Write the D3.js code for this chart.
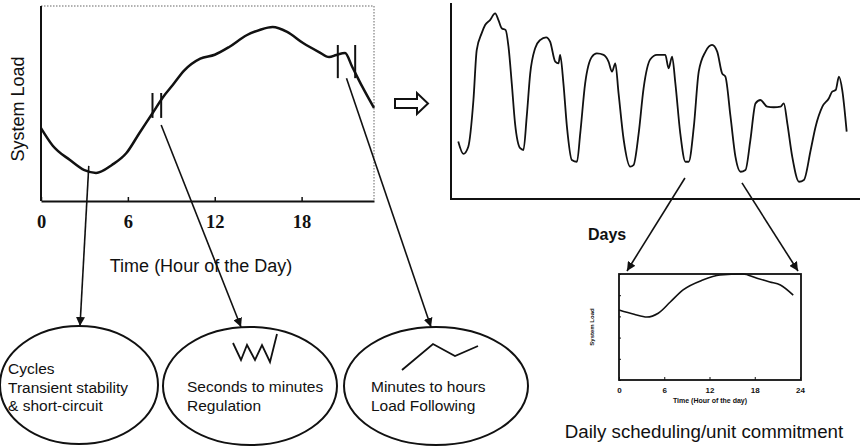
<!DOCTYPE html>
<html>
<head>
<meta charset="utf-8">
<script src="https://cdn.jsdelivr.net/npm/d3@7"></script>
<style>
  body { margin: 0; background: #fff; }
  svg { display: block; }
  text { font-family: "Liberation Sans", Arial, sans-serif; fill: #111; }
</style>
</head>
<body>
<script>
// one day of load (hour, relative load)
var dayHours = [0, 0.8, 2, 3, 3.8, 4.9, 5.9, 6.8, 7.7, 8.4, 9.1, 9.9, 11, 12, 13, 14.2, 15.1, 16, 17, 18.1, 19.2, 19.9, 20.4, 21, 21.5, 22.2, 23];
var dayLoad  = [37.4, 28.5, 21, 15.8, 14.4, 18.5, 24.6, 34.9, 45, 53, 59.5, 67, 73, 75, 79, 85, 87.7, 89.2, 86.7, 81, 76.4, 73.8, 74.9, 75.9, 68.7, 58.5, 47.7];
var dayTicks = [0, 6, 12, 18];

// a week of load (hour of week, relative load)
var weekHours = [3.1, 5.3, 7.4, 9.6, 11, 13.1, 14.6, 16.7, 18.9, 20.3, 21.7, 23.4, 24.6, 26, 27.4, 29.6, 31,
  32.4, 33.9, 36, 38.1, 40.7, 42.4, 44.6, 46, 46.7, 48.1, 49.6, 51.7, 53.9,
  55.3, 57.4, 60.3, 62.4, 65.3, 67.4, 68.9, 70.3, 71.7, 73.9, 76.7, 78.1,
  80.3, 82.4, 85.3, 88.1, 91.7, 93.1, 94.6, 96, 98.1, 100.3, 101.7,
  103.9, 106, 108.9, 111.7, 113.9, 116, 117.4, 119.6, 121.7, 123.9, 126,
  128.1, 130.3, 132.4, 135.3, 138.1, 141, 142.4, 143.9, 146, 148.9, 151,
  153.9, 156, 158.9, 161.7, 163.1, 164.6, 166, 167.4, 169.3];
var weekLoad = [29.3, 23, 26.7, 50.5, 76, 84.5, 88.8, 91.3, 94.7, 91.3, 87.1, 86.2, 77.7, 59, 38.6, 25.9, 25,
  42, 64.1, 76.9, 81.1, 82.5, 80.3, 70.1, 69.2, 73.5, 59, 36.9, 19.9, 19,
  33.5, 59, 72.6, 74.3, 73.5, 70.1, 65, 69.2, 53.9, 30.1, 16.5, 17.3,
  33.5, 56.5, 71.3, 73.5, 73.5, 66.7, 72.6, 59, 33.5, 19, 19,
  36.9, 65, 75.2, 78.6, 75.2, 64.1, 62.4, 42, 21.6, 13.9, 14.8,
  30.1, 48.8, 50.5, 47.1, 46.8, 47.1, 48.8, 38.6, 21.6, 8.8, 9.7,
  25, 36.9, 47.1, 51.4, 54.8, 55.6, 62.4, 55.6, 34.4];

// small daily chart
var smallHours = [0, 2, 3.7, 5.2, 6.8, 8.5, 11.1, 13.4, 16.4, 18.3, 20, 21.4, 23.1];
var smallLoad  = [66, 62, 59.4, 63, 73.6, 85, 94.3, 99, 100, 96, 92.5, 89.6, 80];
var smallTicks = [0, 6, 12, 18, 24];

// time-scale bubbles
var bubbleLines = [
  ["Cycles", "Transient stability", "& short-circuit"],
  ["Seconds to minutes", "Regulation"],
  ["Minutes to hours", "Load Following"]
];
// where each bubble arrow leaves the daily curve (hour, load)
var bubbleFrom = [[3.3, 18], [8.3, 39], [21.1, 63]];
// the "||" marks on the daily curve (hour, low load, high load)
var marks = [[7.7, 42.6, 55.4], [8.3, 42.6, 55.4], [20.5, 63, 80], [21.7, 63, 80]];
// where the two arrows leave the weekly curve (hour, load)
var weekFrom = [[100.1, 10.7], [124.5, 8.2]];

var svg = d3.select("body").append("svg")
    .attr("width", 861)
    .attr("height", 447);

var defs = svg.append("defs");
defs.append("marker")
    .attr("id", "head")
    .attr("viewBox", "0 0 10 10")
    .attr("refX", 10).attr("refY", 5)
    .attr("markerWidth", 9).attr("markerHeight", 9)
    .attr("markerUnits", "userSpaceOnUse")
    .attr("orient", "auto")
  .append("path")
    .attr("d", "M0,0L10,5L0,10z")
    .attr("fill", "#111");

// ---------- daily chart ----------
var x = d3.scaleLinear().domain([0, 23]).range([41, 374]);
var y = d3.scaleLinear().domain([0, 100]).range([201, 6]);

svg.append("path")
    .attr("d", "M41,6H374V201")
    .attr("fill", "none")
    .attr("stroke", "#999")
    .attr("stroke-width", 1.5)
    .attr("stroke-dasharray", "1.5,1.5");

svg.append("g")
    .attr("transform", "translate(0,201)")
    .call(d3.axisBottom(x).tickValues(dayTicks).tickSize(-4).tickPadding(14).tickSizeOuter(0))
    .call(function(g) {
      g.select(".domain").attr("stroke", "#111").attr("stroke-width", 2);
      g.selectAll(".tick line").attr("stroke", "#111").attr("stroke-width", 1.5);
      g.selectAll(".tick text")
        .style("font-family", "'Liberation Serif', 'Times New Roman', serif")
        .style("font-weight", "bold")
        .style("font-size", "18.5px")
        .attr("fill", "#111");
    });

svg.append("line")
    .attr("x1", 41).attr("x2", 41).attr("y1", 6).attr("y2", 201)
    .attr("stroke", "#111").attr("stroke-width", 2);

var line = d3.line()
    .x(function(d, i) { return x(dayHours[i]); })
    .y(function(d) { return y(d); })
    .curve(d3.curveMonotoneX);

svg.append("path")
    .datum(dayLoad)
    .attr("d", line)
    .attr("fill", "none")
    .attr("stroke", "#111")
    .attr("stroke-width", 2.5);

svg.selectAll(".mark")
    .data(marks)
  .enter().append("line")
    .attr("class", "mark")
    .attr("x1", function(d) { return x(d[0]); })
    .attr("x2", function(d) { return x(d[0]); })
    .attr("y1", function(d) { return y(d[1]); })
    .attr("y2", function(d) { return y(d[2]); })
    .attr("stroke", "#111")
    .attr("stroke-width", 2);

svg.append("text")
    .attr("transform", "translate(24,109) rotate(-90)")
    .attr("text-anchor", "middle")
    .style("font-size", "18px")
    .text("System Load");

svg.append("text")
    .attr("x", 201).attr("y", 272)
    .attr("text-anchor", "middle")
    .style("font-size", "18px")
    .text("Time (Hour of the Day)");

// ---------- bubbles ----------
var bubbles = [
  {cx: 79, cy: 385, rx: 79, ry: 59, tx: 8, ty: 374},
  {cx: 250, cy: 386, rx: 87, ry: 59, tx: 187, ty: 392},
  {cx: 436, cy: 386, rx: 92, ry: 59, tx: 371, ty: 392}
];

bubbles.forEach(function(b, i) {
  svg.append("ellipse")
      .attr("cx", b.cx).attr("cy", b.cy)
      .attr("rx", b.rx).attr("ry", b.ry)
      .attr("fill", "none")
      .attr("stroke", "#111")
      .attr("stroke-width", 2);

  svg.append("text")
      .attr("x", b.tx).attr("y", b.ty)
      .style("font-size", "15.5px")
    .selectAll("tspan")
      .data(bubbleLines[i])
    .enter().append("tspan")
      .attr("x", b.tx)
      .attr("dy", function(d, j) { return j ? 18.5 : 0; })
      .text(function(d) { return d; });

  var tipX = [80, 241, 431][i];
  svg.append("line")
      .attr("x1", x(bubbleFrom[i][0])).attr("y1", y(bubbleFrom[i][1]))
      .attr("x2", tipX).attr("y2", b.cy - b.ry)
      .attr("stroke", "#111")
      .attr("stroke-width", 1.6)
      .attr("marker-end", "url(#head)");
});

// little glyphs inside bubbles
svg.append("path")
    .attr("d", "M233,343L241,360L247,345L255,360L262,345L270,362L277,334")
    .attr("fill", "none").attr("stroke", "#111").attr("stroke-width", 1.8);
svg.append("path")
    .attr("d", "M402,370L433,344L455,356L478,346")
    .attr("fill", "none").attr("stroke", "#111").attr("stroke-width", 1.8);

// block arrow
svg.append("path")
    .attr("d", "M395,99H417V93L428,103.5L417,114V108H395Z")
    .attr("fill", "none")
    .attr("stroke", "#111")
    .attr("stroke-width", 2);

// ---------- weekly chart ----------
var wx = d3.scaleLinear().domain([0, 175]).range([451, 860]);
var wy = d3.scaleLinear().domain([0, 100]).range([199, 3]);

svg.append("path")
    .attr("d", "M451,3V199H860")
    .attr("fill", "none")
    .attr("stroke", "#111")
    .attr("stroke-width", 2);

var wline = d3.line()
    .x(function(d, i) { return wx(weekHours[i]); })
    .y(function(d) { return wy(d); })
    .curve(d3.curveMonotoneX);

svg.append("path")
    .datum(weekLoad)
    .attr("d", wline)
    .attr("fill", "none")
    .attr("stroke", "#111")
    .attr("stroke-width", 1.8);

svg.append("text")
    .attr("x", 588).attr("y", 240)
    .style("font-size", "16px")
    .style("font-weight", "bold")
    .text("Days");

// ---------- small daily chart ----------
var sx = d3.scaleLinear().domain([0, 24]).range([619, 800]);
var sy = d3.scaleLinear().domain([0, 100]).range([380, 274]);

var tips = [[627, 271], [798, 271]];
weekFrom.forEach(function(d, i) {
  svg.append("line")
      .attr("x1", wx(d[0])).attr("y1", wy(d[1]))
      .attr("x2", tips[i][0]).attr("y2", tips[i][1])
      .attr("stroke", "#111")
      .attr("stroke-width", 1.6)
      .attr("marker-end", "url(#head)");
});

svg.append("rect")
    .attr("x", 619).attr("y", 274)
    .attr("width", 182).attr("height", 106)
    .attr("fill", "none")
    .attr("stroke", "#111")
    .attr("stroke-width", 1.8);

svg.append("g")
    .attr("transform", "translate(0,380)")
    .call(d3.axisBottom(sx).tickValues(smallTicks).tickSize(-3).tickPadding(7).tickSizeOuter(0))
    .call(function(g) {
      g.select(".domain").remove();
      g.selectAll(".tick line").attr("stroke", "#111");
      g.selectAll(".tick text")
        .style("font-size", "8px")
        .style("font-weight", "bold")
        .attr("fill", "#111");
    });

svg.append("g")
    .attr("transform", "translate(619,0)")
    .call(d3.axisLeft(sy).ticks(5).tickSize(-2).tickFormat(""))
    .call(function(g) {
      g.select(".domain").remove();
      g.selectAll(".tick line").attr("stroke", "#111");
    });

var sline = d3.line()
    .x(function(d, i) { return sx(smallHours[i]); })
    .y(function(d) { return sy(d); })
    .curve(d3.curveMonotoneX);

svg.append("path")
    .datum(smallLoad)
    .attr("d", sline)
    .attr("fill", "none")
    .attr("stroke", "#111")
    .attr("stroke-width", 1.6);

svg.append("text")
    .attr("x", 710).attr("y", 403)
    .attr("text-anchor", "middle")
    .style("font-size", "7px")
    .style("font-weight", "bold")
    .text("Time (Hour of the day)");

svg.append("text")
    .attr("transform", "translate(594,327) rotate(-90)")
    .attr("text-anchor", "middle")
    .style("font-size", "6px")
    .style("font-weight", "bold")
    .text("System Load");

svg.append("text")
    .attr("x", 704).attr("y", 438)
    .attr("text-anchor", "middle")
    .style("font-size", "18.7px")
    .text("Daily scheduling/unit commitment");
</script>
</body>
</html>
